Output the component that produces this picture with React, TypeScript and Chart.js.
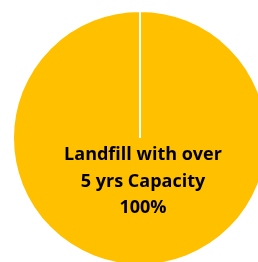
import React, { useEffect, useRef } from "react";
import { Chart, registerables } from "chart.js";

Chart.register(...registerables);

const categories = ["Landfill with over 5 yrs Capacity"];
const values = [100];
const labelLines = ["Landfill with over", "5 yrs Capacity", "100%"];

const centerLabel = {
  id: "centerLabel",
  afterDraw(chart: any) {
    const meta = chart.getDatasetMeta(0);
    const arc = meta.data[0];
    if (!arc) return;
    const { x, y } = arc.getProps(["x", "y"], true);
    const ctx = chart.ctx;
    ctx.save();
    ctx.fillStyle = "#000000";
    ctx.font = "bold 18px 'Open Sans', sans-serif";
    ctx.textAlign = "center";
    ctx.textBaseline = "middle";
    const startY = y + 17;
    labelLines.forEach((t, i) => {
      ctx.fillText(t, x + 3, startY + i * 26.5);
    });
    ctx.restore();
  },
};

export default function App() {
  const ref = useRef<HTMLCanvasElement>(null);
  useEffect(() => {
    document.body.style.margin = "0";
    document.body.style.overflow = "hidden";
    const chart = new Chart(ref.current!, {
      type: "pie",
      data: {
        labels: categories,
        datasets: [
          {
            data: values,
            backgroundColor: ["#FFC000"],
            borderColor: "#FFFFFF",
            borderWidth: 2,
          },
        ],
      },
      options: {
        animation: false,
        responsive: false,
        maintainAspectRatio: false,
        layout: { padding: 0 },
        plugins: {
          legend: { display: false },
          tooltip: { enabled: false },
          title: { display: false },
        },
      },
      plugins: [centerLabel],
    });
    return () => chart.destroy();
  }, []);
  return (
    <div style={{ position: "fixed", left: 0, top: 0, width: 258, height: 262, overflow: "hidden", background: "#fff" }}>
      <canvas ref={ref} width={256} height={256} style={{ position: "absolute", left: 12, top: 10, width: 256, height: 256 }} />
    </div>
  );
}
